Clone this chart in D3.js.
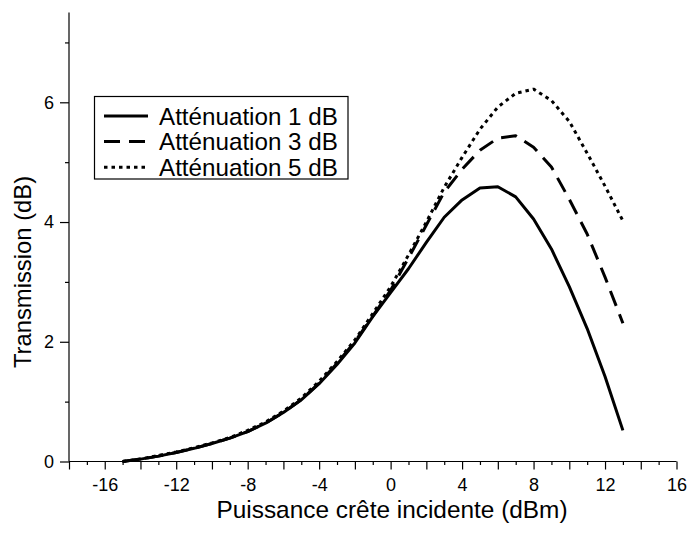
<!DOCTYPE html>
<html>
<head>
<meta charset="utf-8">
<script src="https://cdn.jsdelivr.net/npm/d3@7"></script>
<style>
  html, body { margin: 0; padding: 0; background: #fff; }
  svg { display: block; font-family: "Liberation Sans", Arial, sans-serif; }
</style>
</head>
<body>
<svg id="chart" width="689" height="533"></svg>
<script>
// ---- data ----
const powerDbm = [-15, -14, -13, -12, -11, -10, -9, -8, -7, -6, -5, -4, -3, -2, -1, 0, 1, 2, 3, 4, 5, 6, 7, 8, 9, 10, 11, 12, 13];
const att1 = [0.00, 0.04, 0.09, 0.15, 0.22, 0.30, 0.39, 0.50, 0.64, 0.82, 1.03, 1.30, 1.62, 1.98, 2.42, 2.82, 3.22, 3.66, 4.08, 4.37, 4.57, 4.59, 4.42, 4.05, 3.55, 2.92, 2.22, 1.42, 0.52];
const att3 = [0.00, 0.04, 0.09, 0.15, 0.22, 0.30, 0.39, 0.50, 0.64, 0.82, 1.03, 1.31, 1.64, 2.00, 2.43, 2.86, 3.40, 3.95, 4.50, 4.88, 5.20, 5.40, 5.44, 5.25, 4.92, 4.38, 3.80, 3.08, 2.31];
const att5 = [0.00, 0.04, 0.10, 0.16, 0.23, 0.31, 0.40, 0.52, 0.66, 0.84, 1.06, 1.34, 1.67, 2.03, 2.47, 2.92, 3.45, 4.00, 4.58, 5.08, 5.55, 5.92, 6.15, 6.22, 6.03, 5.68, 5.15, 4.60, 4.02];
const seriesNames = ["Atténuation 1 dB", "Atténuation 3 dB", "Atténuation 5 dB"];
const xTickLabels = [-16, -12, -8, -4, 0, 4, 8, 12, 16];
const yTickLabels = [0, 2, 4, 6];
const xTitle = "Puissance crête incidente (dBm)";
const yTitle = "Transmission (dB)";

// ---- layout ----
const svg = d3.select("#chart");
const x = d3.scaleLinear().domain([-18, 16]).range([69, 676.5]);
const y = d3.scaleLinear().domain([0, 7.5]).range([461.5, 12.5]);

const series = [
  { name: seriesNames[0], values: att1, dash: null },
  { name: seriesNames[1], values: att3, dash: "16,9" },
  { name: seriesNames[2], values: att5, dash: "3.5,4" }
];

// x axis
const xAxis = d3.axisBottom(x)
  .tickValues(d3.range(-18, 17, 1))
  .tickSize(8)
  .tickPadding(9)
  .tickFormat(d => xTickLabels.includes(d) ? String(d) : "");
const gx = svg.append("g").attr("transform", `translate(0,${y(0)})`).call(xAxis);
gx.select(".domain").attr("stroke", "#000").attr("stroke-width", 1.2).attr("d", `M${x(-18)},0H${x(16)}`);
gx.selectAll(".tick line").attr("stroke", "#000").attr("stroke-width", 1.2)
  .attr("y2", d => (Math.abs(d) % 2 === 1) ? 3.5 : 8);
gx.selectAll(".tick text").attr("fill", "#000").style("font-size", "18px");

// y axis
const yAxis = d3.axisLeft(y)
  .tickValues(d3.range(0, 8, 1))
  .tickSize(9)
  .tickPadding(6)
  .tickFormat(d => yTickLabels.includes(d) ? String(d) : "");
const gy = svg.append("g").attr("transform", `translate(${x(-18)},0)`).call(yAxis);
gy.select(".domain").attr("stroke", "#000").attr("stroke-width", 1.2).attr("d", `M0,${y(7.5)}V${y(0)}`);
gy.selectAll(".tick line").attr("stroke", "#000").attr("stroke-width", 1.2)
  .attr("x2", d => (d % 2 === 1) ? -4 : -9);
gy.selectAll(".tick text").attr("fill", "#000").style("font-size", "18px");

// lines
const line = d3.line().x((d, i) => x(powerDbm[i])).y(d => y(d));
series.forEach(s => {
  svg.append("path")
    .datum(s.values)
    .attr("fill", "none")
    .attr("stroke", "#000")
    .attr("stroke-width", 3)
    .attr("stroke-linejoin", "round")
    .attr("stroke-dasharray", s.dash)
    .attr("d", line);
});

// legend
const lg = svg.append("g");
lg.append("rect").attr("x", 94.5).attr("y", 96.5).attr("width", 253.5).attr("height", 82.5)
  .attr("fill", "#fff").attr("stroke", "#000").attr("stroke-width", 1.2);
series.forEach((s, i) => {
  const cy = 116 + i * 25.6;
  lg.append("line").attr("x1", 104).attr("x2", 148).attr("y1", cy).attr("y2", cy)
    .attr("stroke", "#000").attr("stroke-width", 3).attr("stroke-dasharray", s.dash);
  lg.append("text").attr("x", 159).attr("y", cy + 8.5).style("font-size", "24.2px").attr("fill", "#000").text(s.name);
});

// titles
svg.append("text").attr("x", 392).attr("y", 518).attr("text-anchor", "middle")
  .style("font-size", "24.4px").attr("fill", "#000").text(xTitle);
svg.append("text").attr("transform", "translate(31,272) rotate(-90)").attr("text-anchor", "middle")
  .style("font-size", "23.8px").attr("fill", "#000").text(yTitle);
</script>
</body>
</html>
